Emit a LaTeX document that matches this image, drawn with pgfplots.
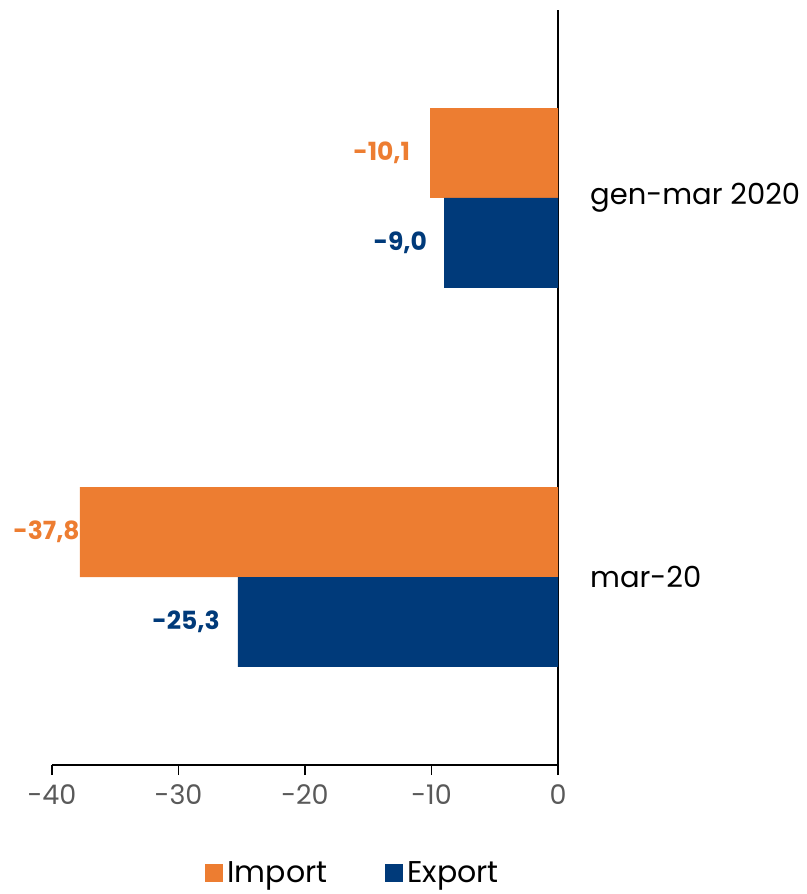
\documentclass[border=0pt]{standalone}
\usepackage{pgfplots}
\pgfplotsset{compat=1.18}
\usepackage{fontspec}
\setmainfont{Poppins}
\definecolor{imp}{HTML}{ED7D31}
\definecolor{expc}{HTML}{003A7A}
\definecolor{tickgray}{HTML}{595959}
\begin{document}
\begin{tikzpicture}[x=1pt,y=1pt]
\path[use as bounding box] (-52,-129) rectangle (754,765);
\begin{axis}[
  at={(0,0)}, anchor=south west,
  scale only axis, width=506pt, height=755pt,
  xmin=-40, xmax=0, ymin=-0.496, ymax=1.496,
  axis x line*=bottom, axis y line*=right,
  axis line style={black, line width=1.3pt},
  xtick={-40,-30,-20,-10,0},
  xticklabels={-40,-30,-20,-10,0},
  tick align=outside,
  x tick style={black, line width=1.3pt},
  major tick length=10pt,
  xticklabel style={font=\fontsize{27}{27}\selectfont, text=tickgray, yshift=-6pt},
  ytick={0,1},
  yticklabels={mar-20,gen-mar 2020},
  y tick style={draw=none},
  yticklabel style={font=\fontsize{29}{29}\selectfont, text=black, anchor=west, inner sep=0pt, xshift=22pt},
  legend style={draw=none, fill=none, at={(0.595,-0.143)}, anchor=center, legend columns=2,
    font=\fontsize{30}{30}\selectfont, column sep=2pt,
    /tikz/every even column/.append style={column sep=56pt},
    nodes={inner sep=2pt}},
  legend image code/.code={\fill[#1] (0pt,-9pt) rectangle (18pt,9pt);},
  clip=false,
]
\addplot[xbar, fill=imp, draw=none, bar width=0.237, bar shift=0.1185,
  nodes near coords, point meta=explicit symbolic,
  visualization depends on={value \thisrow{sh}\as\sh},
  every node near coord/.append style={font=\bfseries\fontsize{25}{25}\selectfont, text=imp, anchor=east, inner sep=0pt, xshift=\sh pt, yshift=45pt}]
  table[x=x, y=y, meta=lab] {
x y lab sh
-10.1 1 -10,1 -20
-37.8 0 -37,8 0
};
\addplot[xbar, fill=expc, draw=none, bar width=0.237, bar shift=-0.1185,
  nodes near coords, point meta=explicit symbolic,
  visualization depends on={value \thisrow{sh}\as\sh},
  every node near coord/.append style={font=\bfseries\fontsize{25}{25}\selectfont, text=expc, anchor=east, inner sep=0pt, xshift=\sh pt, yshift=-45pt}]
  table[x=x, y=y, meta=lab] {
x y lab sh
-9.0 1 -9,0 -17
-25.3 0 -25,3 -18
};
\legend{Import,Export}
\end{axis}
\end{tikzpicture}
\end{document}
